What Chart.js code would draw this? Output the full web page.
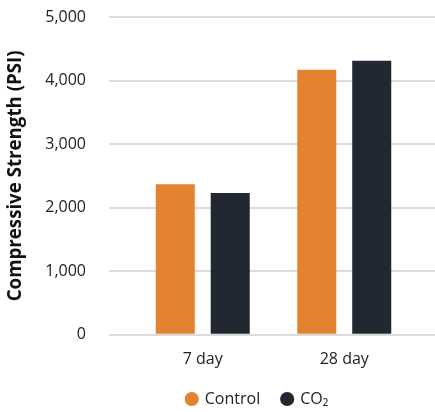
<!DOCTYPE html>
<html lang="en">
  <head>
    <meta charset="UTF-8" />
    <title>Compressive Strength</title>
    <script src="https://cdn.jsdelivr.net/npm/chart.js"></script>
    <style>
      html, body { margin: 0; padding: 0; background: #fff; }
      .chart-box { position: relative; width: 435px; height: 412px; }
    </style>
  </head>
  <body>
    <div class="chart-box"><canvas id="chart"></canvas></div>
    <script>
      const categories = ["7 day", "28 day"];
      const controlValues = [2370, 4170];
      const co2Values = [2230, 4310];
      const yTicks = [0, 1000, 2000, 3000, 4000, 5000];

      const font = "'Open Sans', 'Noto Sans', sans-serif";
      const gridColor = "#dcdcdc";
      const textColor = "#222";

      // legend sits right of the canvas centre and tighter to the axis in the original
      const shiftLegend = {
        id: "shiftLegend",
        afterLayout(chart) {
          chart.legend.left += 80;
          chart.legend.top -= 15;
          chart.legend.bottom -= 15;
        },
      };

      new Chart(document.getElementById("chart"), {
        type: "bar",
        data: {
          labels: categories,
          datasets: [
            {
              label: "Control",
              data: controlValues,
              backgroundColor: "#e3822f",
              categoryPercentage: 0.777,
              barPercentage: 0.71,
            },
            {
              label: "CO\u2082",
              data: co2Values,
              backgroundColor: "#222831",
              categoryPercentage: 0.777,
              barPercentage: 0.71,
            },
          ],
        },
        options: {
          responsive: true,
          maintainAspectRatio: false,
          animation: false,
          layout: { padding: { top: 0, left: 0, right: 0, bottom: -20 } },
          plugins: {
            legend: {
              position: "bottom",
              labels: {
                usePointStyle: true,
                pointStyle: "circle",
                boxWidth: 10,
                boxHeight: 10,
                padding: 22,
                color: textColor,
                font: { family: font, size: 16 },
              },
            },
            tooltip: { enabled: false },
          },
          scales: {
            x: {
              border: { display: false },
              grid: { display: false, drawTicks: false },
              ticks: {
                color: textColor,
                padding: 15,
                font: { family: font, size: 16 },
              },
            },
            y: {
              min: 0,
              max: 5000,
              afterBuildTicks: (scale) => {
                scale.ticks = yTicks.map((v) => ({ value: v }));
              },
              afterFit: (scale) => {
                scale.width = 132;
                scale.paddingTop = 17;
                scale.paddingBottom = 10;
              },
              border: { display: false },
              grid: {
                color: gridColor,
                lineWidth: 2,
                tickLength: 23,
              },
              ticks: {
                color: textColor,
                padding: 23,
                font: { family: font, size: 16 },
                callback: (value) => value.toLocaleString("en-US"),
              },
              title: {
                display: true,
                text: "Compressive Strength (PSI)",
                color: "#111",
                padding: { top: 4, bottom: 0 },
                font: { family: font, size: 18.7, weight: "bold" },
              },
            },
            yRight: {
              position: "right",
              min: 0,
              max: 5000,
              afterBuildTicks: (scale) => {
                scale.ticks = yTicks.map((v) => ({ value: v }));
              },
              afterFit: (scale) => {
                scale.width = 20;
              },
              border: { display: false },
              grid: {
                color: gridColor,
                lineWidth: 2,
                tickLength: 20,
                drawOnChartArea: false,
              },
              ticks: { display: false },
            },
          },
        },
        plugins: [shiftLegend],
      });
    </script>
  </body>
</html>
